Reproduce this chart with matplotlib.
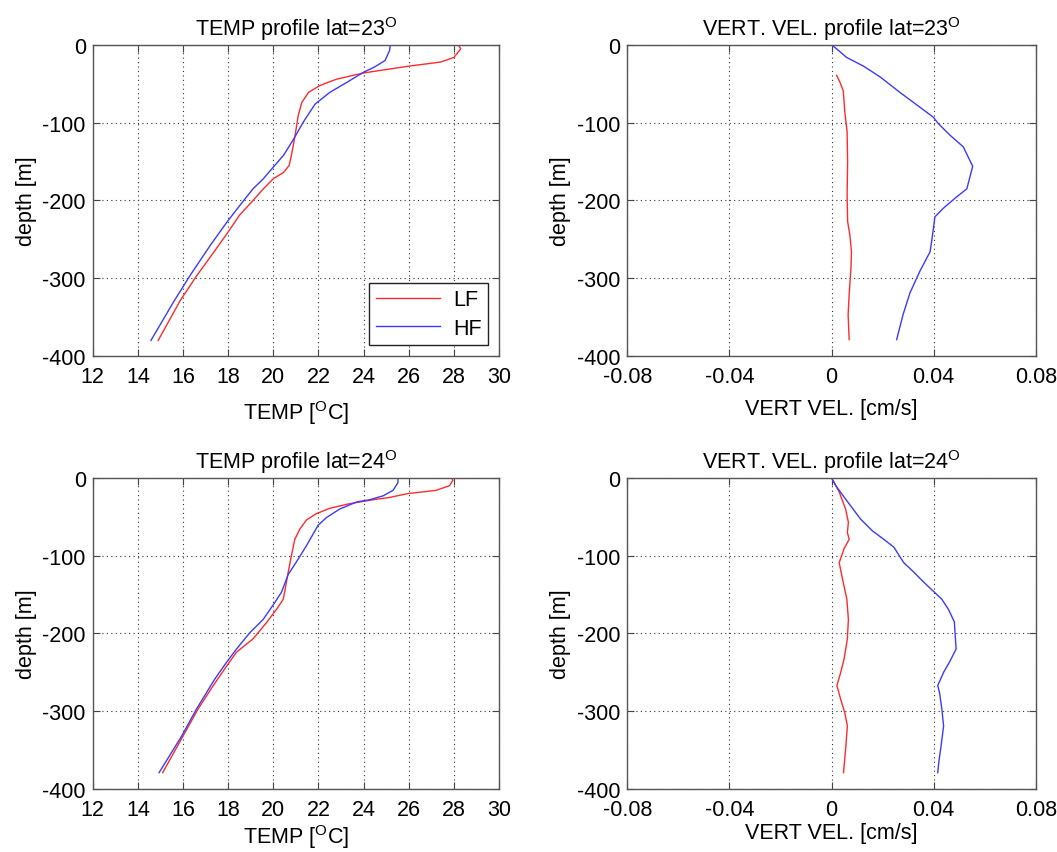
import numpy as np
import matplotlib
matplotlib.use('Agg')
import matplotlib.pyplot as plt

plt.rcParams['font.family'] = ['Liberation Sans', 'DejaVu Sans']
plt.rcParams['mathtext.fontset'] = 'custom'
plt.rcParams['mathtext.rm'] = 'Liberation Sans'
plt.rcParams['axes.unicode_minus'] = False

# ---- lat = 23, temperature ----
T23_LF_DEPTH = [0, -5, -16, -22, -27, -32, -36, -44, -52, -61, -74, -91, -117, -142, -155,
                -164, -172, -185, -200, -219, -243, -267, -297, -329, -380]
T23_LF_TEMP = [28.2, 28.3, 28.0, 27.4, 26.06, 24.9, 24.0, 22.8, 22.07, 21.56, 21.26, 21.1,
               20.96, 20.8, 20.7, 20.45, 20.0, 19.56, 19.1, 18.5, 17.94, 17.35, 16.6, 15.87, 14.9]
T23_HF_DEPTH = [0, -7, -20, -29, -35, -48, -61, -76, -99, -121, -142, -157, -172, -185,
                -207, -228, -258, -297, -331, -380]
T23_HF_TEMP = [25.18, 25.15, 24.95, 24.44, 24.0, 23.26, 22.5, 21.85, 21.33, 20.9, 20.45,
               20.0, 19.56, 19.1, 18.5, 17.94, 17.2, 16.3, 15.57, 14.58]

# ---- lat = 23, vertical velocity ----
W23_LF_DEPTH = [-39, -48, -59, -86, -112, -150, -193, -227, -245, -266, -287, -321, -347, -379]
W23_LF_VEL = [0.002, 0.0033, 0.0046, 0.0052, 0.0061, 0.0063, 0.0061, 0.0063, 0.0072,
              0.0078, 0.0076, 0.0069, 0.0065, 0.0069]
W23_HF_DEPTH = [0, -5, -16, -27, -41, -61, -80, -93, -101, -116, -131, -156, -185, -197,
                -210, -221, -236, -253, -266, -291, -319, -347, -379]
W23_HF_VEL = [0.0, 0.002, 0.0059, 0.0124, 0.019, 0.0268, 0.0346, 0.0399, 0.0418, 0.0464,
              0.0516, 0.0553, 0.053, 0.0484, 0.0438, 0.0405, 0.0399, 0.0392, 0.0386,
              0.0346, 0.0307, 0.028, 0.0255]

# ---- lat = 24, temperature ----
T24_LF_DEPTH = [0, -3, -10, -16, -18, -20, -25, -28, -33, -39, -46, -54, -66, -79, -100,
                -121, -147, -156, -169, -186, -207, -224, -242, -267, -297, -332, -379]
T24_LF_TEMP = [27.9, 27.95, 27.8, 27.2, 26.6, 25.97, 25.16, 24.42, 23.39, 22.5, 21.9, 21.47,
               21.17, 20.95, 20.8, 20.66, 20.5, 20.44, 20.14, 19.7, 19.1, 18.37, 17.93,
               17.34, 16.67, 16.0, 15.1]
T24_HF_DEPTH = [0, -6, -16, -23, -28, -31, -40, -51, -61, -87, -109, -124, -147, -160,
                -182, -199, -220, -237, -259, -297, -332, -379]
T24_HF_TEMP = [25.52, 25.52, 25.3, 24.86, 24.27, 23.68, 22.94, 22.35, 21.98, 21.47, 21.0,
               20.66, 20.36, 20.07, 19.55, 18.96, 18.37, 17.93, 17.4, 16.6, 15.94, 14.94]

# ---- lat = 24, vertical velocity ----
W24_LF_DEPTH = [0, -18, -40, -57, -70, -79, -91, -109, -130, -156, -182, -207, -233, -250,
                -267, -285, -302, -319, -345, -379]
W24_LF_VEL = [0.0, 0.003, 0.0055, 0.0066, 0.0062, 0.0069, 0.0049, 0.003, 0.0043, 0.006,
              0.0066, 0.0062, 0.0049, 0.0036, 0.0021, 0.0036, 0.0052, 0.0062, 0.0056, 0.0047]
W24_HF_DEPTH = [0, -10, -25, -53, -68, -79, -89, -109, -121, -134, -146, -156, -169, -185,
                -220, -235, -250, -267, -276, -297, -319, -345, -366, -379]
W24_HF_VEL = [0.0, 0.0017, 0.005, 0.0114, 0.016, 0.0205, 0.0244, 0.0283, 0.0322, 0.0361,
              0.04, 0.0432, 0.0458, 0.0481, 0.0488, 0.0465, 0.0439, 0.0416, 0.0423, 0.0432,
              0.0439, 0.0429, 0.042, 0.0416]

TEMP_TICKS = [12, 14, 16, 18, 20, 22, 24, 26, 28, 30]
VEL_TICKS = [-0.08, -0.04, 0, 0.04, 0.08]
VEL_TICK_LABELS = ['-0.08', '-0.04', '0', '0.04', '0.08']
DEPTH_TICKS = [0, -100, -200, -300, -400]

LF_COLOR = '#ff2a2a'
HF_COLOR = '#3a3aff'
FS = 15.5


def style_axes(ax, title, xlabel, xlabelpad=8):
    ax.set_ylim(-400, 0)
    ax.set_yticks(DEPTH_TICKS)
    ax.grid(True, linestyle=(0, (1, 3)), color='#333333', linewidth=0.8)
    ax.tick_params(direction='in', top=True, right=True, labelsize=FS, length=5,
                   color='#444444')
    ax.tick_params(axis='x', pad=7)
    ax.tick_params(axis='y', pad=5)
    for sp in ax.spines.values():
        sp.set_color('#555555')
        sp.set_linewidth(1.0)
    ax.set_title(title, fontsize=FS, pad=7)
    ax.set_xlabel(xlabel, fontsize=FS, labelpad=xlabelpad)
    ax.set_ylabel('depth [m]', fontsize=FS, labelpad=4)


def main():
    fig = plt.figure(figsize=(10.57, 8.53), dpi=100)
    w_l, w_r, h = 0.3845, 0.3864, 0.3646
    ax_tl = fig.add_axes([0.0877, 0.5815, w_l, h])
    ax_tr = fig.add_axes([0.5935, 0.5815, w_r, h])
    ax_bl = fig.add_axes([0.0877, 0.0739, w_l, h])
    ax_br = fig.add_axes([0.5935, 0.0739, w_r, h])

    lw = 1.0
    ax_tl.plot(T23_LF_TEMP, T23_LF_DEPTH, color=LF_COLOR, lw=lw, label='LF')
    ax_tl.plot(T23_HF_TEMP, T23_HF_DEPTH, color=HF_COLOR, lw=lw, label='HF')
    ax_bl.plot(T24_LF_TEMP, T24_LF_DEPTH, color=LF_COLOR, lw=lw)
    ax_bl.plot(T24_HF_TEMP, T24_HF_DEPTH, color=HF_COLOR, lw=lw)
    ax_tr.plot(W23_LF_VEL, W23_LF_DEPTH, color=LF_COLOR, lw=lw)
    ax_tr.plot(W23_HF_VEL, W23_HF_DEPTH, color=HF_COLOR, lw=lw)
    ax_br.plot(W24_LF_VEL, W24_LF_DEPTH, color=LF_COLOR, lw=lw)
    ax_br.plot(W24_HF_VEL, W24_HF_DEPTH, color=HF_COLOR, lw=lw)

    for ax in (ax_tl, ax_bl):
        ax.set_xlim(12, 30)
        ax.set_xticks(TEMP_TICKS)
    for ax in (ax_tr, ax_br):
        ax.set_xlim(-0.08, 0.08)
        ax.set_xticks(VEL_TICKS)
        ax.set_xticklabels(VEL_TICK_LABELS)

    style_axes(ax_tl, r'TEMP profile lat=23$^{\rm O}$', r'TEMP [$^{\rm O}$C]')
    style_axes(ax_bl, r'TEMP profile lat=24$^{\rm O}$', r'TEMP [$^{\rm O}$C]', 2)
    style_axes(ax_tr, r'VERT. VEL. profile lat=23$^{\rm O}$', 'VERT VEL. [cm/s]')
    style_axes(ax_br, r'VERT. VEL. profile lat=24$^{\rm O}$', 'VERT VEL. [cm/s]', 2)

    leg = ax_tl.legend(loc='lower right', fontsize=FS, fancybox=False, framealpha=1,
                       edgecolor='#222222', handlelength=3.0, borderpad=0.3,
                       labelspacing=0.35, handletextpad=0.6, borderaxespad=0.5)
    leg.get_frame().set_linewidth(1.0)

    fig.savefig('out.png', dpi=100)


if __name__ == '__main__':
    main()
